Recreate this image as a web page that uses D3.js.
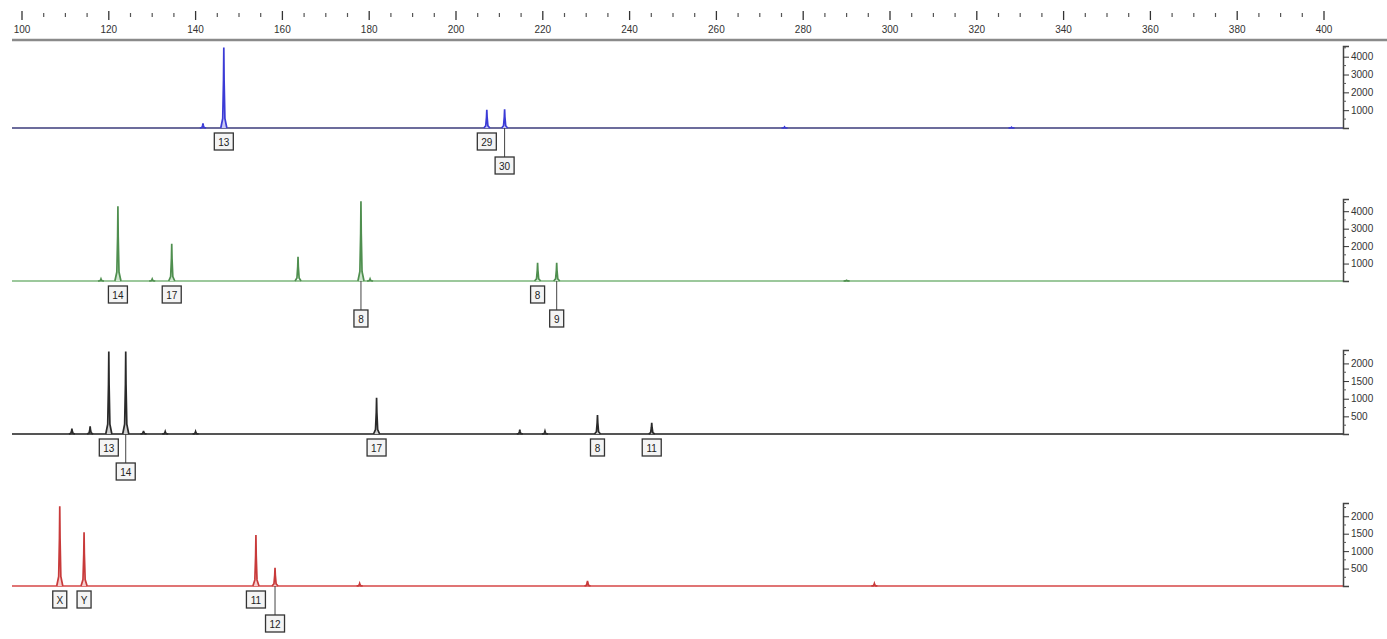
<!DOCTYPE html>
<html>
<head>
<meta charset="utf-8">
<script src="https://cdn.jsdelivr.net/npm/d3@7/dist/d3.min.js"></script>
<style>
  html, body { margin: 0; padding: 0; background: #fff; }
  svg { display: block; font-family: "Liberation Sans", Arial, sans-serif; }
</style>
</head>
<body>
<svg id="chart" width="1387" height="639"></svg>
<script>
// Fragment size axis (bp)
const sizeMajorTicks = [100, 120, 140, 160, 180, 200, 220, 240, 260, 280, 300, 320, 340, 360, 380, 400];
const sizeMinorTicks = [105, 110, 115, 125, 130, 135, 145, 150, 155, 165, 170, 175, 185, 190, 195, 205, 210, 215,
  225, 230, 235, 245, 250, 255, 265, 270, 275, 285, 290, 295, 305, 310, 315, 325, 330, 335,
  345, 350, 355, 365, 370, 375, 385, 390, 395];

// Blue dye
const blueSizes   = [141.7, 146.5, 207.1, 211.2, 275.7, 328.0];
const blueHeights = [260,   4520,  1020,  1050,  60,    40];
const blueLabels  = ["",    "13",  "29",  "30",  "",    ""];
const blueRows    = [0,     0,     0,     1,     0,     0];
const blueTicks   = [1000, 2000, 3000, 4000];

// Green dye
const greenSizes   = [118.2, 122.1, 130.0, 134.5, 163.6, 178.1, 180.2, 218.8, 223.2, 290.0];
const greenHeights = [120,   4280,  110,   2140,  1390,  4570,  120,   1040,  1040,  40];
const greenLabels  = ["",    "14",  "",    "17",  "",    "8",   "",    "8",   "9",   ""];
const greenRows    = [0,     0,     0,     0,     0,     1,     0,     0,     1,     0];
const greenTicks   = [1000, 2000, 3000, 4000];

// Black dye
const blackSizes   = [111.5, 115.7, 120.0, 123.9, 128.0, 133.0, 140.0, 181.7, 214.7, 220.5, 232.6, 245.1];
const blackHeights = [150,   220,   2340,  2340,  90,    70,    70,    1030,  120,   80,    540,   320];
const blackLabels  = ["",    "",    "13",  "14",  "",    "",    "",    "17",  "",    "",    "8",   "11"];
const blackRows    = [0,     0,     0,     1,     0,     0,     0,     0,     0,     0,     0,     0];
const blackTicks   = [500, 1000, 1500, 2000];

// Red dye
const redSizes   = [108.7, 114.3, 153.9, 158.3, 177.8, 230.3, 296.4];
const redHeights = [2290,  1540,  1460,  520,   70,    150,   70];
const redLabels  = ["X",   "Y",   "11",  "12",  "",    "",    ""];
const redRows    = [0,     0,     0,     1,     0,     0,     0];
const redTicks   = [500, 1000, 1500, 2000];

const panels = [
  { sizes: blueSizes,  heights: blueHeights,  labels: blueLabels,  rows: blueRows,  ticks: blueTicks,
    max: 4600, base: 128, top: 46,  peak: "#3b3bd6", fill: "#c8c8f4", line: "#6c6c9c", step: 500 },
  { sizes: greenSizes, heights: greenHeights, labels: greenLabels, rows: greenRows, ticks: greenTicks,
    max: 4700, base: 281, top: 199, peak: "#4f8f4f", fill: "#cfe6cf", line: "#9cc89c", step: 500 },
  { sizes: blackSizes, heights: blackHeights, labels: blackLabels, rows: blackRows, ticks: blackTicks,
    max: 2380, base: 434, top: 350, peak: "#2a2a2a", fill: "#cfcfcf", line: "#555555", step: 250 },
  { sizes: redSizes,   heights: redHeights,   labels: redLabels,   rows: redRows,   ticks: redTicks,
    max: 2380, base: 586, top: 503, peak: "#c83a3a", fill: "#f6cccc", line: "#e07474", step: 250 }
];

const svg = d3.select("#chart");
const x = d3.scaleLinear().domain([100, 400]).range([22, 1324]);
const plotLeft = 12, plotRight = 1343;

// Top size axis
const sizeAxis = svg.append("g");
sizeAxis.append("line").attr("x1", plotLeft).attr("x2", 1387).attr("y1", 40).attr("y2", 40)
  .attr("stroke", "#8a8a8a").attr("stroke-width", 2.5);
sizeAxis.selectAll("line.minor").data(sizeMinorTicks).join("line").attr("class", "minor")
  .attr("x1", d => x(d)).attr("x2", d => x(d)).attr("y1", 13).attr("y2", 17)
  .attr("stroke", "#555").attr("stroke-width", 1.2);
sizeAxis.selectAll("line.major").data(sizeMajorTicks).join("line").attr("class", "major")
  .attr("x1", d => x(d)).attr("x2", d => x(d)).attr("y1", 11).attr("y2", 20)
  .attr("stroke", "#333").attr("stroke-width", 1.3);
sizeAxis.selectAll("text").data(sizeMajorTicks).join("text")
  .attr("x", d => x(d)).attr("y", 33).attr("text-anchor", "middle")
  .attr("font-size", 10).attr("fill", "#333").text(d => d);

// Peak outline: narrow spike with a slightly wider foot
const spike = (s, h) => [[s - 0.7, 0], [s - 0.25, h * 0.12], [s - 0.07, h * 0.6], [s, h],
                         [s + 0.07, h * 0.6], [s + 0.25, h * 0.12], [s + 0.7, 0]];

panels.forEach(p => {
  const y = d3.scaleLinear().domain([0, p.max]).range([p.base, p.top]);
  const g = svg.append("g");
  const line = d3.line().x(d => x(d[0])).y(d => y(d[1]));

  // baseline trace
  g.append("line").attr("x1", plotLeft).attr("x2", plotRight).attr("y1", y(0)).attr("y2", y(0))
    .attr("stroke", p.line).attr("stroke-width", 2);

  // peaks
  p.sizes.forEach((s, i) => {
    const pts = spike(s, p.heights[i]);
    g.append("path").attr("d", line(pts) + "Z").attr("fill", p.labels[i] ? p.fill : "none")
      .attr("stroke", "none");
    g.append("path").attr("d", line(pts)).attr("fill", "none")
      .attr("stroke", p.peak).attr("stroke-width", 1.7);
  });

  // right-hand intensity axis
  const yAxis = d3.axisRight(y).tickValues(p.ticks).tickFormat(d3.format("d")).tickSize(6).tickPadding(2);
  const ax = g.append("g").attr("transform", `translate(${plotRight},0)`).call(yAxis);
  ax.select(".domain").attr("stroke", "#444").attr("stroke-width", 1.5);
  ax.selectAll(".tick line").attr("stroke", "#333");
  ax.selectAll(".tick text").attr("font-size", 10).attr("fill", "#333")
    .attr("font-family", "Liberation Sans, Arial, sans-serif");
  const minor = d3.range(p.step, p.max, p.step).filter(v => !p.ticks.includes(v));
  ax.selectAll("line.minor").data(minor).join("line").attr("class", "minor")
    .attr("x1", 0).attr("x2", 3).attr("y1", d => y(d)).attr("y2", d => y(d)).attr("stroke", "#555");

  // allele call boxes
  p.sizes.forEach((s, i) => {
    const lab = p.labels[i];
    if (!lab) return;
    const cx = x(s);
    const w = lab.length > 1 ? 19 : 14, h = 17;
    const ty = y(0) + 5 + p.rows[i] * 24;
    if (p.rows[i] > 0) {
      g.append("line").attr("x1", cx).attr("x2", cx).attr("y1", y(0)).attr("y2", ty)
        .attr("stroke", "#444").attr("stroke-width", 1);
    }
    g.append("rect").attr("x", cx - w / 2).attr("y", ty).attr("width", w).attr("height", h)
      .attr("fill", "#f4f4f4").attr("stroke", "#333").attr("stroke-width", 1.3);
    g.append("text").attr("x", cx).attr("y", ty + 12.5).attr("text-anchor", "middle")
      .attr("font-size", 10).attr("fill", "#222").text(lab);
  });
});
</script>
</body>
</html>
